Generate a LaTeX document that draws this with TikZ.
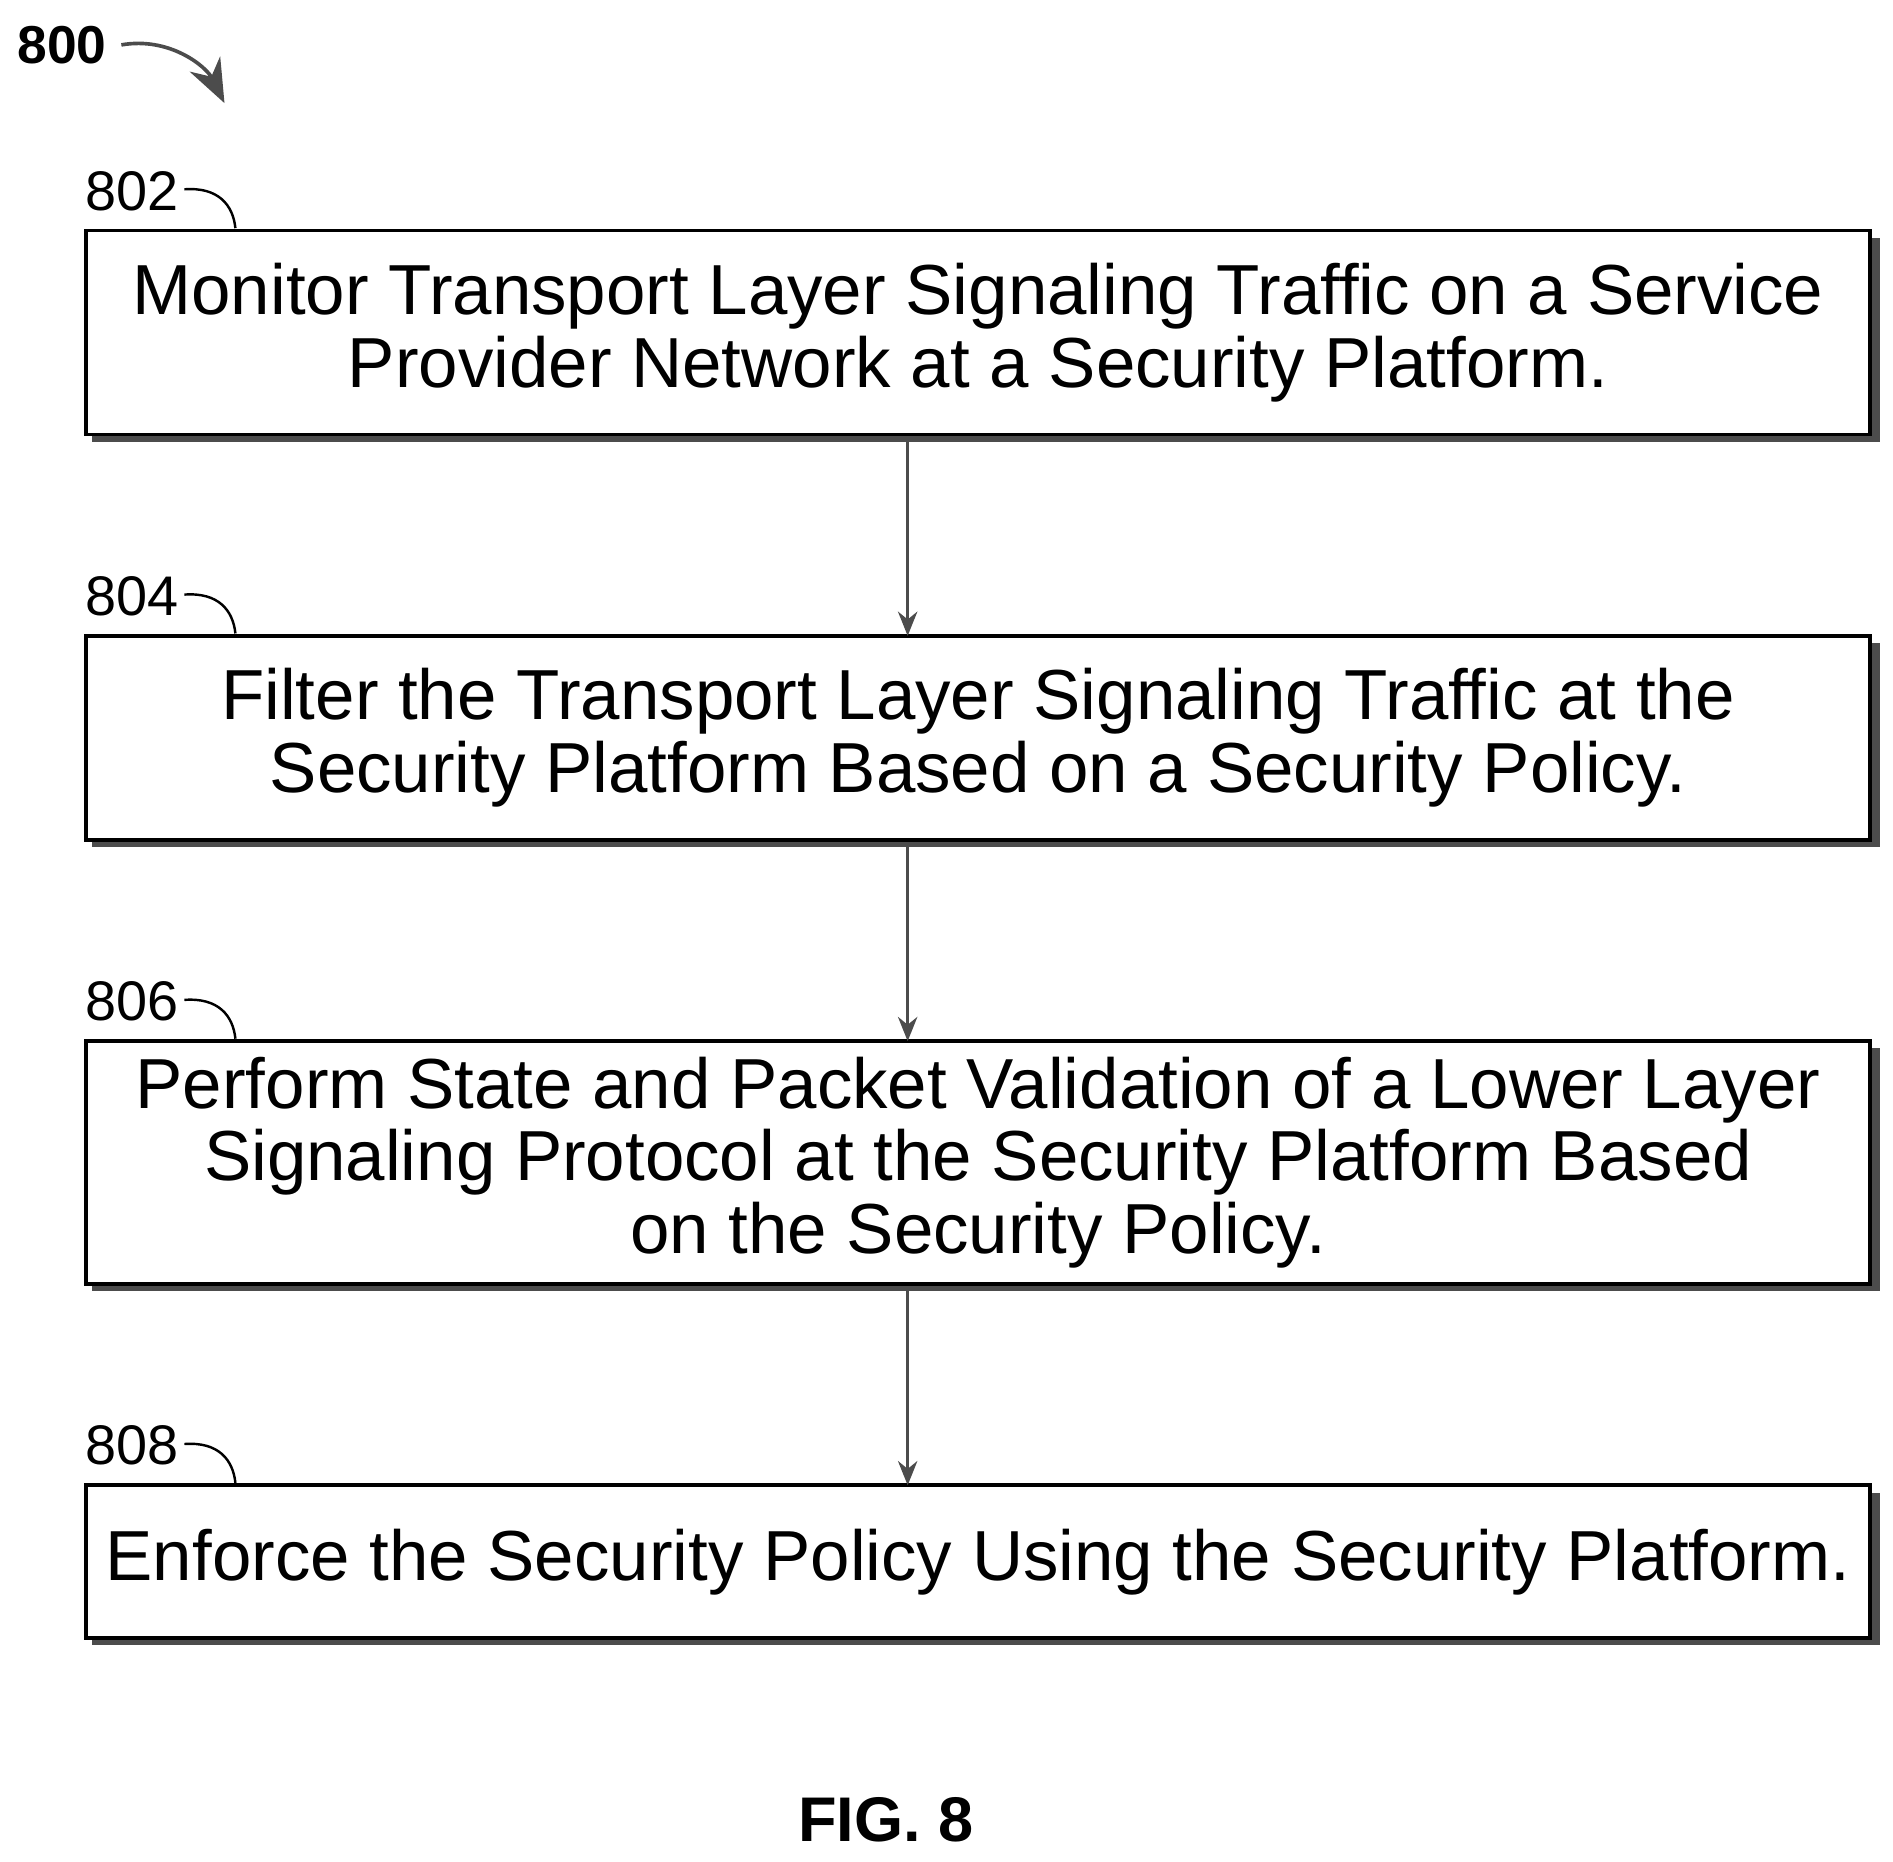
\documentclass[tikz,border=0pt]{standalone}
\usepackage{fontspec}
\setmainfont{Liberation Sans}
\usetikzlibrary{arrows.meta}
\begin{document}
\begin{tikzpicture}[x=0.5pt,y=-0.5pt,
  box/.style={draw,line width=1.5pt,fill=white,minimum width=735pt,align=center,font=\fontsize{29.2}{30}\selectfont},
  shad/.style={fill=black!70},
  lab/.style={font=\fontsize{23}{26}\selectfont,anchor=south west,inner sep=0pt},
  arr/.style={line width=1pt,black!70,-{Stealth[length=10pt,width=8pt]}}]
\useasboundingbox (0,0) rectangle (1560,1534);
\def\bx#1#2#3#4{%
  \fill[shad] (76,#2+6) rectangle (1549,#3+6);
  \node[box,minimum height={(#3-#2)*0.5pt}] (#1) at (806,{(#2+#3)/2}) {#4};}
\bx{b1}{190}{358}{Monitor Transport Layer Signaling Traffic on a Service\\Provider Network at a Security Platform.}
\bx{b2}{524}{692}{Filter the Transport Layer Signaling Traffic at the\\Security Platform Based on a Security Policy.}
\bx{b3}{858}{1058}{Perform State and Packet Validation of a Lower Layer\\Signaling Protocol at the Security Platform Based\\on the Security Policy.}
\bx{b4}{1224}{1350}{Enforce the Security Policy Using the Security Platform.}
\foreach \n/\y in {802/174,804/508,806/842,808/1208}{
  \node[lab] (l\n) at (70,\y) {\n};
  \draw[line width=1pt] (152,\y-18) .. controls (180,\y-20) and (192,\y-5) .. (194,\y+14);
}
\coordinate (a1) at (748,364); \coordinate (e1) at (748,524);
\coordinate (a2) at (748,698); \coordinate (e2) at (748,858);
\coordinate (a3) at (748,1064); \coordinate (e3) at (748,1224);
\draw[arr] (a1)--(e1); \draw[arr] (a2)--(e2); \draw[arr] (a3)--(e3);
\node[font=\bfseries\fontsize{22}{24}\selectfont,anchor=west,inner sep=0pt] (t800) at (14,37) {800};
\coordinate (p800) at (185,85);
\draw[line width=1.5pt,black!70,-{Stealth[length=18pt,width=14pt]}] (100,37) .. controls (140,30) and (170,55) .. (p800);
\node[font=\bfseries\fontsize{26}{28}\selectfont] (fig) at (730,1500) {FIG. 8};
\end{tikzpicture}
\end{document}
